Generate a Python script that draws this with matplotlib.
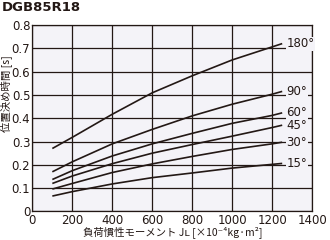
import numpy as np
import matplotlib
matplotlib.use("Agg")
import matplotlib.pyplot as plt

# load inertia [x10^-4 kg·m^2]
inertia = [100, 200, 400, 600, 800, 1000, 1200, 1250]

# positioning time [s] for each rotation angle
t_180 = [0.270, 0.318, 0.417, 0.509, 0.582, 0.650, 0.706, 0.720]
t_90 = [0.170, 0.213, 0.290, 0.352, 0.410, 0.460, 0.503, 0.515]
t_60 = [0.137, 0.175, 0.238, 0.290, 0.335, 0.378, 0.412, 0.423]
t_45 = [0.120, 0.152, 0.205, 0.250, 0.287, 0.323, 0.360, 0.370]
t_30 = [0.096, 0.120, 0.167, 0.204, 0.236, 0.266, 0.290, 0.297]
t_15 = [0.066, 0.085, 0.118, 0.145, 0.165, 0.186, 0.202, 0.206]

series = [t_180, t_90, t_60, t_45, t_30, t_15]
angle_labels = ["180°", "90°", "60°", "45°", "30°", "15°"]

x_ticks = [0, 200, 400, 600, 800, 1000, 1200, 1400]
y_ticks = [0, 0.1, 0.2, 0.3, 0.4, 0.5, 0.6, 0.7, 0.8]
y_tick_labels = ["0", "0.1", "0.2", "0.3", "0.4", "0.5", "0.6", "0.7", "0.8"]

ink = "#231815"
bg = "#f4f3f8"
narrow = ["Liberation Sans Narrow", "DejaVu Sans"]
cjk = ["Noto Sans CJK JP", "DejaVu Sans"]

fig = plt.figure(figsize=(3.3, 2.4), dpi=100)
ax = fig.add_axes([0.098, 0.119, 0.848, 0.777])
ax.set_facecolor(bg)

for ys, lab in zip(series, angle_labels):
    ax.plot(inertia, ys, color=ink, lw=1.2, solid_capstyle="butt")
    ax.text(inertia[-1] + 22, ys[-1], lab, family=narrow, fontsize=8.5,
            color=ink, va="center", ha="left",
            bbox=dict(facecolor=bg, edgecolor="none", pad=0.3))

ax.set_xlim(0, 1400)
ax.set_ylim(0, 0.8)
ax.set_xticks(x_ticks)
ax.set_yticks(y_ticks)
ax.set_yticklabels(y_tick_labels)
ax.grid(True, color=ink, lw=0.9)
ax.set_axisbelow(True)
for s in ax.spines.values():
    s.set_color(ink)
    s.set_linewidth(0.9)
ax.tick_params(length=0, pad=1.5, labelsize=8.5, colors=ink)
for t in ax.get_xticklabels() + ax.get_yticklabels():
    t.set_family(narrow)

ax.set_xlabel("負荷慣性モーメント Jʟ [×10⁻⁴kg·m²]",
              family=cjk, fontsize=7.5, color=ink)
ax.xaxis.set_label_coords(0.5, -0.078)
ax.set_ylabel("位置決め時間 [s]", family=cjk, fontsize=7.5, color=ink)
ax.yaxis.set_label_coords(-0.072, 0.63)

fig.text(0.006, 0.995, "DGB85R18", family="DejaVu Sans", fontweight="bold",
         fontsize=9.5, color=ink, va="top", ha="left")

fig.savefig("out.png", dpi=100)
